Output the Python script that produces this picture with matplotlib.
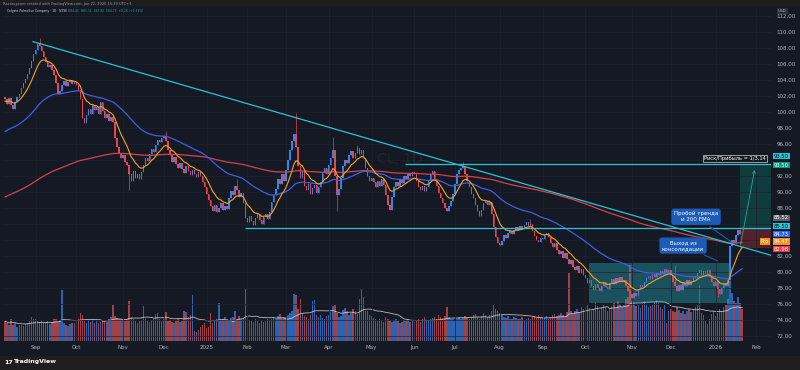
import numpy as np
import pandas as pd
import matplotlib
matplotlib.use('Agg')
import matplotlib.pyplot as plt
from matplotlib.patches import Rectangle

# daily closes, one list per month
aug24 = [101.6, 101.0, 101.8, 100.9, 100.4, 101.2, 101.9, 102.3, 103.0, 103.6, 104.1, 104.8, 105.5, 106.4, 107.2]
sep24 = [107.8, 108.5, 108.2, 107.6, 106.9, 106.2, 105.6, 105.9, 105.2, 104.6, 103.6, 102.2, 102.6, 103.4, 103.9,
         103.2, 103.8, 104.0, 103.5, 103.7]
oct24 = [103.4, 102.8, 101.6, 99.2, 98.6, 99.6, 100.4, 99.8, 100.9, 100.2, 100.6, 99.7, 101.3, 100.1, 99.2, 99.8,
         98.9, 99.4, 98.7, 96.8, 95.6, 94.9, 94.2]
nov24 = [94.6, 93.8, 93.4, 92.2, 91.4, 92.6, 91.8, 92.3, 91.6, 92.5, 93.4, 94.3, 93.9, 94.8, 95.4, 95.0, 95.9, 96.5,
         96.2, 96.8]
dec24 = [97.0, 96.4, 95.2, 94.6, 93.8, 94.4, 93.5, 93.0, 93.6, 92.9, 92.4, 93.2, 92.6, 92.1, 92.8, 92.3, 91.9, 92.5,
         92.0, 91.3, 90.6]
jan25 = [89.8, 89.0, 88.2, 87.6, 88.4, 87.5, 88.0, 88.6, 87.8, 88.3, 87.9, 89.2, 90.1, 89.6, 90.8, 90.2, 89.4, 89.9,
         88.6, 86.8]
feb25 = [86.2, 87.0, 86.4, 85.9, 86.8, 87.2, 86.5, 86.0, 86.9, 87.3, 86.6, 87.5, 88.8, 89.6, 90.4, 91.6, 91.0, 92.2, 91.4]
mar25 = [92.8, 94.0, 95.2, 96.4, 97.2, 95.6, 93.2, 91.8, 92.6, 90.8, 90.2, 91.0, 89.8, 90.5, 90.9, 89.9, 90.6, 91.2,
         92.4, 93.0, 92.2]
apr25 = [93.4, 94.2, 95.3, 92.0, 89.6, 90.4, 91.8, 93.2, 94.0, 93.6, 94.6, 95.1, 94.3, 94.9, 95.5, 94.8, 95.3, 94.2,
         93.0, 92.0, 91.4]
may25 = [91.8, 91.2, 90.6, 91.4, 90.8, 91.6, 90.9, 89.6, 88.4, 87.8, 89.4, 90.6, 91.2, 90.8, 91.6, 91.1, 92.0, 91.6,
         92.3, 92.0, 92.5]
jun25 = [92.2, 91.4, 90.6, 90.2, 90.8, 90.1, 90.6, 91.4, 92.2, 92.6, 91.6, 90.8, 89.9, 89.2, 88.6, 88.0, 87.6, 88.2,
         88.9, 89.8]
jul25 = [91.0, 92.2, 92.8, 93.0, 93.3, 92.2, 91.4, 90.6, 89.8, 89.2, 88.4, 87.6, 87.0, 87.8, 88.6, 88.9, 88.4, 88.8,
         87.2, 85.6, 84.4, 83.6]
aug25 = [83.4, 83.9, 84.6, 84.2, 84.9, 85.1, 84.7, 85.3, 85.6, 85.2, 85.8, 85.4, 85.9, 86.2, 85.8, 86.0, 85.1, 84.5,
         84.0, 83.8, 84.3]
sep25 = [84.1, 84.6, 84.9, 84.4, 83.6, 83.1, 83.6, 82.8, 82.2, 82.6, 81.8, 82.4, 81.6, 81.0, 81.5, 80.6, 80.2, 80.8,
         79.9, 80.4, 79.6]
oct25 = [79.2, 78.6, 79.0, 78.2, 77.8, 78.5, 78.0, 77.6, 78.3, 78.8, 78.1, 77.9, 78.6, 79.1, 78.5, 79.3, 78.8, 79.4,
         78.7, 79.0, 78.2, 77.6, 77.2]
nov25 = [76.8, 77.4, 77.0, 77.9, 78.4, 78.1, 78.8, 79.2, 79.5, 79.1, 79.7, 79.4, 79.9, 79.6, 80.1, 79.8, 80.4, 79.9, 80.3]
dec25 = [79.6, 78.8, 78.2, 77.6, 78.4, 77.8, 78.6, 78.2, 79.0, 78.4, 78.9, 79.5, 79.2, 79.9, 80.2, 79.6, 80.1, 79.7,
         80.2, 79.4, 78.8, 78.3]
jan26 = [78.9, 77.9, 77.3, 78.0, 78.6, 78.2, 79.0, 83.2, 84.0, 83.6, 84.6, 85.2, 84.8, 84.73]

# daily volume in millions
vol_aug24 = [5.0, 4.5, 4.0, 5.5, 4.0, 4.5, 3.5, 4.0, 4.0, 3.8, 4.2, 4.5, 5.0, 6.0, 5.5]
vol_sep24 = [5.5, 5.0, 4.8, 5.2, 4.6, 4.4, 5.0, 4.2, 4.8, 5.4, 5.6, 4.8, 5.2, 12.7, 4.5, 4.0, 3.8, 4.2, 4.4, 4.6]
vol_oct24 = [5.0, 5.5, 7.0, 6.5, 5.0, 4.6, 5.2, 4.8, 5.6, 4.4, 5.0, 4.6, 4.8, 5.2, 5.0, 4.8, 5.4, 6.0, 9.0, 6.2, 5.8,
             5.5, 5.4]
vol_nov24 = [5.2, 5.0, 5.4, 10.0, 6.0, 5.5, 5.0, 4.6, 5.0, 5.2, 8.7, 5.6, 5.0, 4.8, 5.2, 5.6, 6.8, 7.0, 5.4, 5.0]
vol_dec24 = [5.5, 7.3, 5.0, 5.2, 4.8, 4.6, 5.0, 5.4, 4.8, 5.0, 7.5, 7.2, 6.0, 6.5, 11.6, 2.5, 2.2, 2.8, 3.5, 4.0, 4.5]
vol_jan25 = [3.2, 3.6, 7.0, 4.5, 5.0, 5.5, 9.5, 5.2, 5.6, 6.0, 5.4, 5.0, 5.8, 6.0, 7.5, 5.6, 6.2, 5.4, 5.8, 12.9]
vol_feb25 = [6.0, 5.2, 5.0, 4.8, 5.4, 5.0, 4.6, 5.2, 4.8, 5.0, 5.4, 5.2, 5.6, 6.0, 5.4, 6.2, 6.8, 5.8, 6.0]
vol_mar25 = [6.0, 6.4, 7.0, 7.5, 11.8, 11.5, 8.0, 10.6, 7.0, 6.2, 6.0, 5.6, 6.5, 10.0, 10.2, 6.4, 6.0, 6.6, 5.8, 5.6, 6.2]
vol_apr25 = [6.5, 7.2, 8.7, 9.0, 7.0, 6.0, 6.2, 7.8, 8.2, 7.4, 6.6, 7.0, 8.0, 7.5, 6.8, 10.5, 13.0, 11.0, 7.6, 7.5, 6.4]
vol_may25 = [6.2, 5.8, 5.4, 5.0, 5.6, 5.2, 4.8, 6.0, 5.5, 5.0, 4.8, 5.2, 5.4, 5.0, 4.6, 4.8, 5.2, 5.0, 5.4, 4.8, 5.0]
vol_jun25 = [5.2, 5.0, 5.6, 4.8, 5.4, 6.0, 5.2, 5.0, 5.4, 5.8, 6.0, 5.6, 6.4, 6.0, 5.8, 6.2, 8.5, 6.0, 5.6, 5.4]
vol_jul25 = [5.0, 5.6, 6.0, 5.4, 5.8, 6.2, 5.8, 5.4, 6.0, 6.4, 6.8, 6.0, 5.6, 6.2, 7.0, 6.6, 6.0, 6.4, 7.5, 9.0, 8.0, 7.6]
vol_aug25 = [7.0, 6.4, 6.0, 5.8, 6.2, 5.6, 5.4, 6.0, 5.8, 5.4, 5.6, 6.0, 5.2, 5.6, 5.8, 5.4, 6.0, 6.2, 5.8, 6.4, 6.0]
vol_sep25 = [6.0, 5.8, 6.2, 5.6, 6.0, 6.4, 6.8, 6.2, 6.6, 7.0, 6.4, 6.0, 7.2, 17.0, 7.4, 6.8, 7.6, 8.0, 7.2, 8.4, 8.0]
vol_oct25 = [8.6, 9.0, 8.2, 7.6, 8.0, 9.4, 8.8, 7.8, 8.2, 9.0, 8.4, 7.6, 8.0, 8.8, 9.6, 8.2, 10.0, 9.2, 8.6, 9.0, 10.4,
             11.0, 19.0]
vol_nov25 = [10.0, 9.4, 8.8, 9.0, 8.2, 9.6, 10.0, 9.2, 8.4, 8.8, 9.0, 9.6, 10.2, 9.4, 8.6, 8.0, 9.0, 4.5, 7.6]
vol_dec25 = [8.0, 7.6, 7.2, 8.4, 7.8, 7.0, 7.4, 6.8, 7.6, 8.0, 7.2, 7.8, 8.6, 9.0, 14.0, 7.0, 6.4, 5.0, 4.2, 5.6, 6.8, 7.4]
vol_jan26 = [6.2, 7.0, 8.0, 7.6, 8.4, 9.0, 10.5, 15.0, 12.0, 10.0, 9.6, 11.0, 9.4, 8.0]

month_labels = ['', 'Sep', 'Oct', 'Nov', 'Dec', '2025', 'Feb', 'Mar', 'Apr', 'May', 'Jun', 'Jul', 'Aug', 'Sep',
                'Oct', 'Nov', 'Dec', '2026']
next_month_label = 'Feb'
jan26_trading_days = 20

# notable wicks: day index -> (high, low)
spikes = {17: (109.2, None), 61: (None, 90.3), 79: (97.6, None), 114: (91.6, None), 143: (99.9, None),
          161: (96.9, None), 163: (None, 87.6), 173: (95.9, None), 225: (93.8, None), 258: (86.6, None),
          307: (None, 76.5), 329: (80.9, None), 350: (None, 76.9)}

first_open = 101.9
ema_seeds = {10: 101.3, 50: 97.4, 200: 89.25}

# drawing objects
trend_start = (13.75, 108.8)
trend_end = (376.7, 82.05)
support_level = 85.50
support_from = 118
resist_level = 93.50
resist_from = 196.5
box_range = (287, 355)
box_prices = (76.3, 81.1)
entry, target, stop = 85.52, 93.50, 82.98
last_price = 84.73
pro_price = 84.47

months = [aug24, sep24, oct24, nov24, dec24, jan25, feb25, mar25, apr25, may25, jun25, jul25, aug25, sep25,
          oct25, nov25, dec25, jan26]
vols = [vol_aug24, vol_sep24, vol_oct24, vol_nov24, vol_dec24, vol_jan25, vol_feb25, vol_mar25, vol_apr25,
        vol_may25, vol_jun25, vol_jul25, vol_aug25, vol_sep25, vol_oct25, vol_nov25, vol_dec25, vol_jan26]

closes = np.concatenate(months)
volumes = np.concatenate(vols)
n = len(closes)
idx = np.arange(n)
opens = np.r_[first_open, closes[:-1]]
highs = np.maximum(opens, closes)
lows = np.minimum(opens, closes)
for i, (h, l) in spikes.items():
    if h is not None:
        highs[i] = h
    if l is not None:
        lows[i] = l
up = closes >= opens


def ema(values, span, seed):
    a = 2 / (span + 1)
    out, e = [], seed
    for v in values:
        e = a * v + (1 - a) * e
        out.append(e)
    return np.array(out)


BG = '#151924'
TXT = '#b2b5be'
CYAN = '#2cc3d3'
UPC, DNC = '#2f86ee', '#e8464e'

fig = plt.figure(figsize=(8, 3.7), dpi=100, facecolor='#1e1e1e')
fig.patches.append(Rectangle((0, 14 / 370), 1, 350 / 370, transform=fig.transFigure, fc=BG, ec='none', zorder=-5))

rect = [2 / 800, 29 / 370, 769 / 800, 334 / 370]
xlim = (-1.47, 376.2)

axv = fig.add_axes(rect)
axv.set_facecolor(BG)
vcol = np.where(up, '#2d6cc0', '#b0474c')
axv.bar(idx, volumes, width=0.7, color=vcol, alpha=0.9, linewidth=0)
vma = pd.Series(volumes).rolling(20, min_periods=1).mean()
axv.plot(idx, vma, color='#d8d8d8', lw=0.6, alpha=0.85)
axv.set_ylim(0, 83.5)
axv.set_xlim(*xlim)
axv.axis('off')

ax = fig.add_axes(rect)
ax.patch.set_alpha(0)
ax.set_xlim(*xlim)
ax.set_ylim(71.375, 113.125)

# grid; the labels at 84, 86 and 94 sit under the price tags
yt = np.arange(72, 113, 2)
ax.set_yticks(yt)
ax.set_yticklabels(['' if v in (84, 86, 94) else f'{v:.2f}' for v in yt])
starts = np.cumsum([0] + [len(m) for m in months])[:-1]
xt = list(starts[1:]) + [starts[-1] + jan26_trading_days]
ax.set_xticks(xt)
ax.set_xticklabels(month_labels[1:] + [next_month_label])
ax.grid(True, color='#1f2331', lw=0.5, zorder=0)
ax.yaxis.tick_right()
ax.tick_params(axis='both', length=0, colors=TXT, labelsize=4)
ax.tick_params(axis='y', pad=4)
ax.tick_params(axis='x', pad=3)
for s in ax.spines.values():
    s.set_visible(False)

# consolidation box
ax.add_patch(Rectangle((box_range[0], box_prices[0]), box_range[1] - box_range[0], box_prices[1] - box_prices[0],
                       fc='#22a6b3', ec='#2cc3d3', lw=0.4, alpha=0.4, zorder=1))

# long position zones
ax.add_patch(Rectangle((361, entry), xlim[1] - 361, target - entry, fc='#089981', alpha=0.28, lw=0, zorder=1))
ax.add_patch(Rectangle((361, stop), xlim[1] - 361, entry - stop, fc='#f23645', alpha=0.28, lw=0, zorder=1))

# candles
cc = np.where(up, UPC, DNC)
ax.vlines(idx, lows, highs, colors=cc, lw=0.5, zorder=3)
ax.bar(idx, np.maximum(np.abs(closes - opens), 0.06), bottom=np.minimum(opens, closes), width=0.7,
       color=cc, linewidth=0, zorder=3)

# EMAs
ax.plot(idx, ema(closes, 200, ema_seeds[200]), color='#d9404c', lw=0.9, zorder=4)
ax.plot(idx, ema(closes, 50, ema_seeds[50]), color='#3f5fe0', lw=0.9, zorder=4)
ax.plot(idx, ema(closes, 10, ema_seeds[10]), color='#f5a31a', lw=0.8, zorder=4)

# trend lines
ax.plot([trend_start[0], trend_end[0]], [trend_start[1], trend_end[1]], color=CYAN, lw=0.9, zorder=5)
ax.hlines(support_level, support_from, xlim[1], color=CYAN, lw=0.9, zorder=5)
ax.hlines(resist_level, resist_from, xlim[1], color=CYAN, lw=0.9, zorder=5)

# watermark
ax.text(194, 94.1, 'CL, 1D', fontsize=10, color='#ffffff', alpha=0.05, ha='center', va='center', zorder=2)

# target arrow
ax.annotate('', xy=(368.4, 93.1), xytext=(361, 83.1),
            arrowprops=dict(arrowstyle='->', color='#26a69a', lw=0.6, mutation_scale=5), zorder=6)
ax.text(358.5, 94.2, 'Риск/Прибыль = 1/3,14', fontsize=3.7, color='white', ha='center', va='center', zorder=7,
        bbox=dict(boxstyle='square,pad=0.25', fc=BG, ec='#d0d0d0', lw=0.5))

# callouts
callout = dict(boxstyle='round,pad=0.45', fc='#1c5bb6', ec='none')
ax.annotate('Пробой тренда\nи 200 EMA', xy=(357.6, 83.6), xytext=(339.4, 86.9), fontsize=4, color='white',
            ha='center', va='center', bbox=callout, linespacing=1.3, zorder=7,
            arrowprops=dict(arrowstyle='-', color='#1c5bb6', lw=0.8))
ax.annotate('Выход из\nконсолидации', xy=(351.2, 81.25), xytext=(333.0, 83.3), fontsize=4, color='white',
            ha='center', va='center', bbox=callout, linespacing=1.3, zorder=7,
            arrowprops=dict(arrowstyle='-', color='#1c5bb6', lw=0.8))

# price scale labels
yx = ax.get_yaxis_transform()
tags = [(target, '#26c6da', '#111111', 8), (target, '#089981', 'white', -1), (entry, '#5d606b', 'white', 10),
        (support_level, '#26c6da', '#111111', 2), (last_price, '#2962ff', 'white', 0),
        (pro_price, '#f7931a', 'white', -5), (stop, '#f23645', 'white', -1)]
for val, bg, fg, dy in tags:
    ax.annotate(f'{val:.2f}', xy=(1, val), xycoords=yx, xytext=(3, dy), textcoords='offset pixels',
                fontsize=3.8, color=fg, ha='left', va='center', annotation_clip=False, zorder=8,
                bbox=dict(boxstyle='square,pad=0.15', fc=bg, ec='none'))
ax.annotate('Pro', xy=(1, pro_price), xycoords=yx, xytext=(-2, -5), textcoords='offset pixels',
            fontsize=3.8, color='white', ha='right', va='center', annotation_clip=False, zorder=8,
            bbox=dict(boxstyle='square,pad=0.15', fc='#f7931a', ec='none'))

# header / legend / footer
fig.text(0.004, 0.995, 'Razorupcom created with TradingView.com, Jan 22, 2026 16:39 UTC+3', fontsize=2.6,
         color='#9598a1', va='top')
fig.text(7 / 800, 1 - 11 / 370, 'Colgate-Palmolive Company · 1D · NYSE', fontsize=2.2, color='#d1d4dc',
         va='center')
fig.text(68 / 800, 1 - 11 / 370, 'O84.45  H85.11  L83.92  C84.73  +0.26 (+0.31%)', fontsize=2.2,
         color='#26a69a', va='center')
fig.text(778 / 800, 1 - 11 / 370, 'USD', fontsize=3, color=TXT, va='center',
         bbox=dict(boxstyle='square,pad=0.3', fc='#2a2e39', ec='none'))
fig.text(4 / 800, 8 / 370, '17', fontsize=4.5, color='white', fontweight='bold', va='center')
fig.text(13 / 800, 8 / 370, 'TradingView', fontsize=4.5, color='white', fontweight='bold', va='center')

fig.savefig('out.png', dpi=100, facecolor=fig.get_facecolor())
